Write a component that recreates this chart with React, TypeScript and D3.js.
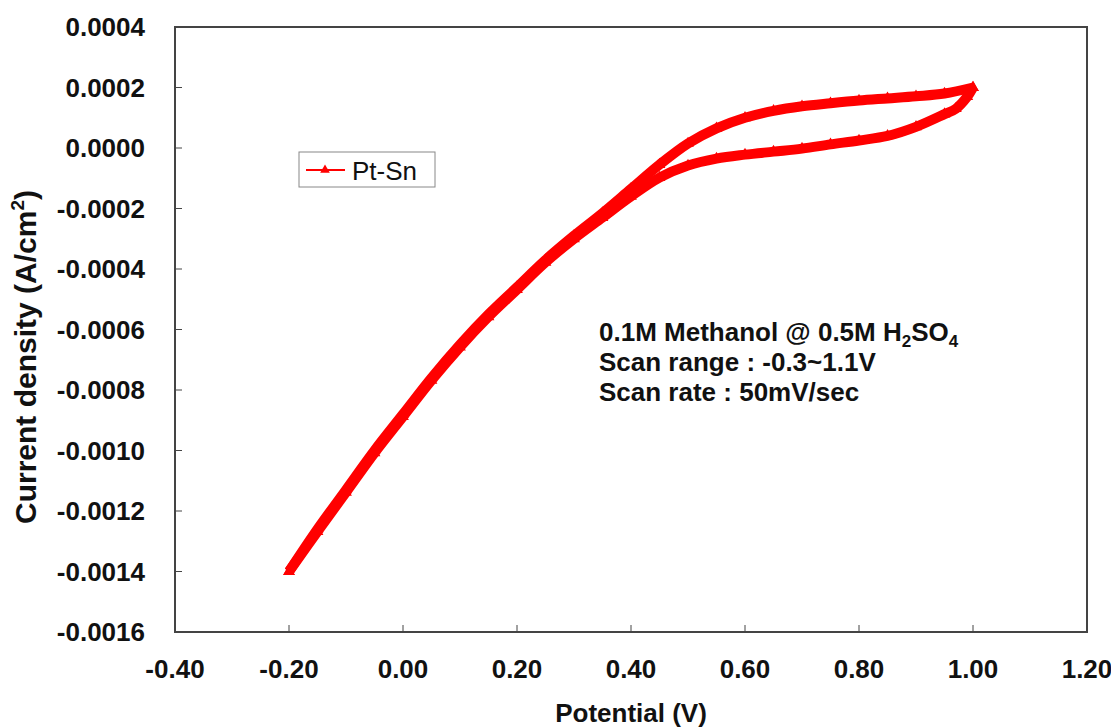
import React from 'react';
import * as d3 from 'd3';

// Pt-Sn cyclic voltammogram, 0.1M methanol in 0.5M H2SO4
const forwardV = [-0.2, -0.15, -0.1, -0.05, 0.0, 0.05, 0.1, 0.15, 0.2, 0.25, 0.3, 0.35, 0.4, 0.45, 0.5, 0.55, 0.6, 0.65, 0.7, 0.75, 0.8, 0.85, 0.9, 0.95, 1.0];
const forwardI = [-0.0014, -0.00126, -0.00113, -0.001, -0.00088, -0.00076, -0.00065, -0.00055, -0.00046, -0.00037, -0.00029, -0.000215, -0.000135, -0.000055, 0.000015, 0.000065, 0.0001, 0.000123, 0.000138, 0.000148, 0.000157, 0.000164, 0.000171, 0.00018, 0.0002];

const reverseV = [1.0, 0.99, 0.97, 0.95, 0.9, 0.85, 0.8, 0.75, 0.7, 0.65, 0.6, 0.55, 0.5, 0.45, 0.4, 0.35, 0.3, 0.25, 0.2, 0.15, 0.1, 0.05, 0.0, -0.05, -0.1, -0.15, -0.2];
const reverseI = [0.0002, 0.00017, 0.00013, 0.000112, 0.00007, 0.00004, 0.000025, 0.000012, -0.000002, -0.000012, -0.000022, -0.000035, -0.000058, -0.000098, -0.00016, -0.00023, -0.0003, -0.000378, -0.000468, -0.000558, -0.000658, -0.000768, -0.000888, -0.001008, -0.001138, -0.001268, -0.0014];

const xTicks = [-0.4, -0.2, 0, 0.2, 0.4, 0.6, 0.8, 1.0, 1.2];
const yTicks = [0.0004, 0.0002, 0, -0.0002, -0.0004, -0.0006, -0.0008, -0.001, -0.0012, -0.0014, -0.0016];

const seriesName = 'Pt-Sn';
const notes = ['Scan range : -0.3~1.1V', 'Scan rate : 50mV/sec'];

const W = 1111;
const H = 728;
const margin = { top: 27, right: 24, bottom: 96, left: 175 };
const RED = '#ff0000';
const AXIS = '#444444';
const FONT = 'Arial, "Liberation Sans", Helvetica, sans-serif';

export default function App() {
  const x = d3.scaleLinear().domain([-0.4, 1.2]).range([margin.left, W - margin.right]);
  const y = d3.scaleLinear().domain([-0.0016, 0.0004]).range([H - margin.bottom, margin.top]);

  const fwd = forwardV.map((v, k) => [v, forwardI[k]] as [number, number]);
  const rev = reverseV.map((v, k) => [v, reverseI[k]] as [number, number]);
  const pts = [...fwd, ...rev];

  const line = d3.line<[number, number]>()
    .x(d => x(d[0]))
    .y(d => y(d[1]))
    .curve(d3.curveCatmullRom.alpha(0.5));

  const tri = d3.symbol().type(d3.symbolTriangle).size(60)();
  const legTri = d3.symbol().type(d3.symbolTriangle).size(40)();

  const [x0, x1] = x.range();
  const [y0, y1] = y.range();

  return (
    <div style={{ position: 'absolute', left: 0, top: 0 }}>
      <svg width={W} height={H} style={{ display: 'block', background: '#fff' }} fontFamily={FONT}>
        {/* plot frame */}
        <rect x={x0} y={y1} width={x1 - x0} height={y0 - y1} fill="none" stroke={AXIS} strokeWidth={2} />

        {/* ticks (inside) */}
        {xTicks.map(t => (
          <g key={'x' + t}>
            <line x1={x(t)} x2={x(t)} y1={y0} y2={y0 - 7} stroke={AXIS} strokeWidth={1} />
            <text x={x(t)} y={y0 + 46} textAnchor="middle" fontSize={26} fontWeight="bold" fill="#111">
              {t.toFixed(2)}
            </text>
          </g>
        ))}
        {yTicks.map(t => (
          <g key={'y' + t}>
            <line x1={x0} x2={x0 + 7} y1={y(t)} y2={y(t)} stroke={AXIS} strokeWidth={1} />
            <text x={145} y={y(t)} dy="0.36em" textAnchor="end" fontSize={26} fontWeight="bold" fill="#111">
              {t.toFixed(4)}
            </text>
          </g>
        ))}

        {/* data */}
        <path d={line(fwd) || ''} fill="none" stroke={RED} strokeWidth={10} strokeLinejoin="round" />
        <path d={line(rev) || ''} fill="none" stroke={RED} strokeWidth={10} strokeLinejoin="round" />
        {pts.map((d, k) => (
          <path key={k} d={tri || ''} transform={`translate(${x(d[0])},${y(d[1])})`} fill={RED} />
        ))}

        {/* legend */}
        <rect x={299} y={152} width={136} height={35} fill="#fff" stroke="#888" strokeWidth={1} />
        <line x1={306} x2={345} y1={170} y2={170} stroke={RED} strokeWidth={2} />
        <path d={legTri || ''} transform="translate(325,170)" fill={RED} />
        <text x={352} y={180} fontSize={26} fill="#111">{seriesName}</text>

        {/* annotation */}
        <text x={599} y={341} fontSize={26} fontWeight="bold" fill="#111">
          0.1M Methanol @ 0.5M H<tspan fontSize={17} dy={6}>2</tspan><tspan dy={-6}>SO</tspan><tspan fontSize={17} dy={6}>4</tspan>
        </text>
        {notes.map((n, k) => (
          <text key={n} x={599} y={371 + k * 30} fontSize={26} fontWeight="bold" fill="#111">{n}</text>
        ))}

        {/* axis titles */}
        <text x={(x0 + x1) / 2} y={722} textAnchor="middle" fontSize={26} fontWeight="bold" fill="#111">
          Potential (V)
        </text>
        <text transform="translate(36,357) rotate(-90)" textAnchor="middle" fontSize={30} fontWeight="bold" fill="#111">
          Current density (A/cm<tspan fontSize={19} dy={-12}>2</tspan><tspan dy={12}>)</tspan>
        </text>
      </svg>
    </div>
  );
}
